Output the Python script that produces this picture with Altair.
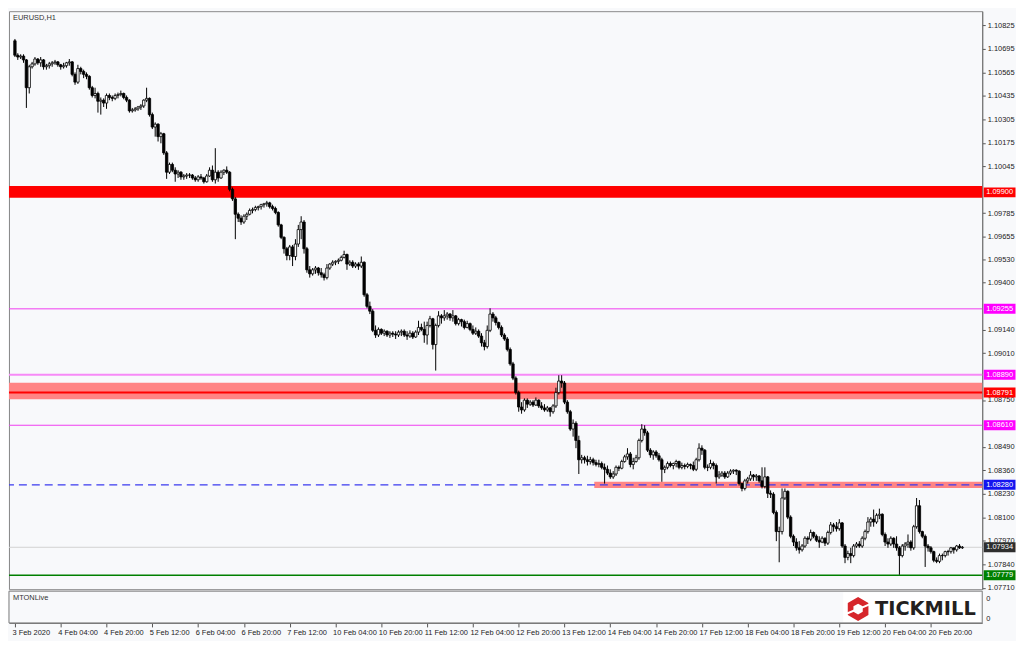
import altair as alt
import pandas as pd

# ---------------- layout constants ----------------
W, H = 980, 582
XMIN, XMAX = -0.34, 336.2
YMIN, YMAX = 1.07702, 1.10904
BG = "#f8f9fb"
FONT = "Liberation Sans"

# ---------------- EURUSD H1 candles ----------------
first_open = 1.10740

c_03 = [1.10660, 1.10650, 1.10655, 1.10634, 1.10480, 1.10596, 1.10612, 1.10639, 1.10618, 1.10634, 1.10596, 1.10602]
h_03 = [1.10750, 1.10671, 1.10665, 1.10665, 1.10639, 1.10607, 1.10623, 1.10650, 1.10644, 1.10650, 1.10639, 1.10612]
l_03 = [1.10650, 1.10634, 1.10639, 1.10618, 1.10368, 1.10448, 1.10586, 1.10602, 1.10607, 1.10596, 1.10580, 1.10580]

c_04 = [1.10612, 1.10618, 1.10623, 1.10607, 1.10596, 1.10602, 1.10618, 1.10623, 1.10554, 1.10511, 1.10586, 1.10570,
        1.10554, 1.10543, 1.10480, 1.10437, 1.10448, 1.10405, 1.10411, 1.10395, 1.10437, 1.10426, 1.10421, 1.10437]
h_04 = [1.10623, 1.10628, 1.10634, 1.10628, 1.10612, 1.10618, 1.10623, 1.10639, 1.10628, 1.10565, 1.10607, 1.10596,
        1.10580, 1.10565, 1.10549, 1.10490, 1.10480, 1.10458, 1.10426, 1.10421, 1.10448, 1.10448, 1.10437, 1.10448]
l_04 = [1.10586, 1.10596, 1.10607, 1.10596, 1.10580, 1.10586, 1.10591, 1.10602, 1.10543, 1.10496, 1.10501, 1.10554,
        1.10533, 1.10527, 1.10469, 1.10426, 1.10421, 1.10342, 1.10331, 1.10373, 1.10363, 1.10411, 1.10405, 1.10411]

c_05 = [1.10442, 1.10448, 1.10426, 1.10411, 1.10352, 1.10357, 1.10363, 1.10373, 1.10379, 1.10411, 1.10421, 1.10331,
        1.10262, 1.10278, 1.10209, 1.10225, 1.10119, 1.10012, 1.10055, 1.10023, 1.10002, 1.10012, 1.09986, 1.09991]
h_05 = [1.10453, 1.10464, 1.10453, 1.10437, 1.10416, 1.10368, 1.10373, 1.10379, 1.10389, 1.10416, 1.10480, 1.10426,
        1.10342, 1.10288, 1.10283, 1.10235, 1.10230, 1.10129, 1.10065, 1.10065, 1.10039, 1.10023, 1.10018, 1.10002]
l_05 = [1.10421, 1.10432, 1.10416, 1.10400, 1.10342, 1.10342, 1.10347, 1.10352, 1.10357, 1.10368, 1.10400, 1.10320,
        1.10251, 1.10209, 1.10182, 1.10172, 1.10108, 1.09975, 1.10002, 1.10012, 1.09959, 1.09980, 1.09970, 1.09970]

c_06 = [1.09996, 1.09996, 1.09980, 1.09970, 1.09986, 1.09980, 1.09959, 1.09991, 1.10023, 1.09970, 1.10012, 1.09980,
        1.10012, 1.10023, 1.10012, 1.09917, 1.09864, 1.09779, 1.09757, 1.09736, 1.09768, 1.09779, 1.09800, 1.09805]
h_06 = [1.10007, 1.10007, 1.10002, 1.09991, 1.09996, 1.10002, 1.09986, 1.10002, 1.10039, 1.10049, 1.10145, 1.10023,
        1.10023, 1.10028, 1.10044, 1.10018, 1.09927, 1.09874, 1.09789, 1.09773, 1.09779, 1.09789, 1.09811, 1.09816]
l_06 = [1.09975, 1.09980, 1.09970, 1.09959, 1.09959, 1.09970, 1.09949, 1.09954, 1.09986, 1.09959, 1.09949, 1.09959,
        1.09975, 1.09996, 1.10002, 1.09906, 1.09853, 1.09641, 1.09736, 1.09720, 1.09726, 1.09747, 1.09773, 1.09784]

c_07 = [1.09816, 1.09821, 1.09832, 1.09837, 1.09842, 1.09821, 1.09811, 1.09789, 1.09720, 1.09651, 1.09588, 1.09550,
        1.09598, 1.09545, 1.09614, 1.09694, 1.09736, 1.09588, 1.09471, 1.09449, 1.09471, 1.09481, 1.09455, 1.09444]
h_07 = [1.09826, 1.09826, 1.09837, 1.09842, 1.09853, 1.09848, 1.09832, 1.09821, 1.09795, 1.09726, 1.09657, 1.09598,
        1.09609, 1.09609, 1.09641, 1.09720, 1.09768, 1.09747, 1.09598, 1.09492, 1.09481, 1.09492, 1.09487, 1.09481]
l_07 = [1.09795, 1.09800, 1.09805, 1.09816, 1.09821, 1.09811, 1.09800, 1.09779, 1.09710, 1.09641, 1.09561, 1.09524,
        1.09524, 1.09492, 1.09524, 1.09598, 1.09641, 1.09561, 1.09455, 1.09428, 1.09439, 1.09449, 1.09439, 1.09428]

c_10 = [1.09428, 1.09481, 1.09503, 1.09513, 1.09518, 1.09524, 1.09540, 1.09556, 1.09503, 1.09513, 1.09492, 1.09503,
        1.09492, 1.09513, 1.09333, 1.09269, 1.09242, 1.09136, 1.09110, 1.09141, 1.09120, 1.09131, 1.09110, 1.09120]
h_10 = [1.09455, 1.09503, 1.09508, 1.09524, 1.09524, 1.09534, 1.09550, 1.09577, 1.09561, 1.09524, 1.09524, 1.09513,
        1.09513, 1.09545, 1.09518, 1.09343, 1.09295, 1.09253, 1.09163, 1.09152, 1.09147, 1.09141, 1.09136, 1.09131]
l_10 = [1.09412, 1.09418, 1.09471, 1.09492, 1.09497, 1.09503, 1.09518, 1.09534, 1.09471, 1.09492, 1.09481, 1.09481,
        1.09471, 1.09481, 1.09322, 1.09258, 1.09226, 1.09126, 1.09094, 1.09099, 1.09110, 1.09104, 1.09099, 1.09094]

c_11 = [1.09115, 1.09110, 1.09126, 1.09131, 1.09110, 1.09104, 1.09120, 1.09099, 1.09126, 1.09152, 1.09141, 1.09110,
        1.09163, 1.09200, 1.09057, 1.09163, 1.09216, 1.09205, 1.09216, 1.09226, 1.09205, 1.09216, 1.09173, 1.09195]
h_11 = [1.09131, 1.09131, 1.09136, 1.09141, 1.09141, 1.09131, 1.09136, 1.09131, 1.09136, 1.09189, 1.09173, 1.09184,
        1.09184, 1.09216, 1.09205, 1.09173, 1.09242, 1.09226, 1.09248, 1.09237, 1.09232, 1.09248, 1.09221, 1.09205]
l_11 = [1.09099, 1.09088, 1.09099, 1.09104, 1.09099, 1.09083, 1.09094, 1.09088, 1.09094, 1.09110, 1.09131, 1.09067,
        1.09057, 1.09152, 1.09030, 1.08913, 1.09152, 1.09173, 1.09189, 1.09195, 1.09189, 1.09184, 1.09163, 1.09163]

c_12 = [1.09184, 1.09152, 1.09173, 1.09141, 1.09120, 1.09131, 1.09104, 1.09067, 1.09046, 1.09136, 1.09226, 1.09205,
        1.09179, 1.09152, 1.09110, 1.09088, 1.09030, 1.08950, 1.08871, 1.08791, 1.08711, 1.08695, 1.08749, 1.08727]
h_12 = [1.09200, 1.09195, 1.09189, 1.09179, 1.09163, 1.09152, 1.09141, 1.09120, 1.09083, 1.09163, 1.09258, 1.09237,
        1.09216, 1.09184, 1.09163, 1.09120, 1.09099, 1.09041, 1.08961, 1.08881, 1.08802, 1.08738, 1.08759, 1.08759]
l_12 = [1.09157, 1.09141, 1.09147, 1.09131, 1.09110, 1.09110, 1.09094, 1.09046, 1.09025, 1.09035, 1.09126, 1.09184,
        1.09163, 1.09141, 1.09099, 1.09078, 1.09019, 1.08940, 1.08860, 1.08780, 1.08685, 1.08674, 1.08685, 1.08706]

c_13 = [1.08738, 1.08722, 1.08749, 1.08717, 1.08706, 1.08695, 1.08706, 1.08685, 1.08717, 1.08791, 1.08855, 1.08844,
        1.08738, 1.08685, 1.08589, 1.08621, 1.08526, 1.08419, 1.08430, 1.08419, 1.08409, 1.08419, 1.08403, 1.08393]
h_13 = [1.08749, 1.08749, 1.08764, 1.08754, 1.08738, 1.08727, 1.08717, 1.08711, 1.08727, 1.08818, 1.08887, 1.08887,
        1.08855, 1.08749, 1.08695, 1.08642, 1.08632, 1.08552, 1.08446, 1.08441, 1.08441, 1.08435, 1.08430, 1.08419]
l_13 = [1.08717, 1.08711, 1.08717, 1.08706, 1.08695, 1.08685, 1.08685, 1.08658, 1.08674, 1.08706, 1.08780, 1.08818,
        1.08727, 1.08674, 1.08579, 1.08547, 1.08483, 1.08340, 1.08398, 1.08398, 1.08387, 1.08393, 1.08387, 1.08382]

c_14 = [1.08398, 1.08377, 1.08366, 1.08345, 1.08324, 1.08340, 1.08377, 1.08372, 1.08409, 1.08435, 1.08451, 1.08393,
        1.08409, 1.08430, 1.08526, 1.08589, 1.08568, 1.08472, 1.08446, 1.08462, 1.08441, 1.08419, 1.08366, 1.08377]
h_14 = [1.08419, 1.08409, 1.08398, 1.08387, 1.08366, 1.08356, 1.08387, 1.08387, 1.08419, 1.08446, 1.08483, 1.08462,
        1.08430, 1.08446, 1.08536, 1.08616, 1.08610, 1.08579, 1.08483, 1.08472, 1.08472, 1.08456, 1.08430, 1.08387]
l_14 = [1.08377, 1.08366, 1.08287, 1.08334, 1.08313, 1.08313, 1.08329, 1.08356, 1.08366, 1.08403, 1.08419, 1.08377,
        1.08366, 1.08403, 1.08419, 1.08515, 1.08552, 1.08462, 1.08430, 1.08419, 1.08430, 1.08409, 1.08297, 1.08345]

c_17 = [1.08398, 1.08387, 1.08398, 1.08409, 1.08377, 1.08387, 1.08382, 1.08393, 1.08387, 1.08366, 1.08419, 1.08483,
        1.08472, 1.08377, 1.08377, 1.08398, 1.08387, 1.08324, 1.08334, 1.08345, 1.08324, 1.08345, 1.08356, 1.08361]
h_17 = [1.08409, 1.08409, 1.08403, 1.08419, 1.08414, 1.08403, 1.08398, 1.08403, 1.08398, 1.08409, 1.08430, 1.08510,
        1.08499, 1.08478, 1.08393, 1.08419, 1.08409, 1.08398, 1.08356, 1.08356, 1.08356, 1.08356, 1.08366, 1.08366]
l_17 = [1.08366, 1.08377, 1.08366, 1.08377, 1.08366, 1.08366, 1.08366, 1.08372, 1.08366, 1.08356, 1.08356, 1.08409,
        1.08446, 1.08366, 1.08356, 1.08366, 1.08366, 1.08287, 1.08313, 1.08324, 1.08313, 1.08318, 1.08334, 1.08340]

c_18 = [1.08356, 1.08287, 1.08260, 1.08302, 1.08313, 1.08334, 1.08324, 1.08329, 1.08302, 1.08271, 1.08324, 1.08233,
        1.08228, 1.08127, 1.08021, 1.08021, 1.08207, 1.08244, 1.08101, 1.07995, 1.07963, 1.07931, 1.07920, 1.07941]
h_18 = [1.08366, 1.08361, 1.08292, 1.08313, 1.08324, 1.08356, 1.08340, 1.08340, 1.08334, 1.08377, 1.08377, 1.08329,
        1.08249, 1.08239, 1.08138, 1.08048, 1.08260, 1.08260, 1.08249, 1.08111, 1.08005, 1.07984, 1.07968, 1.07952]
l_18 = [1.08334, 1.08276, 1.08244, 1.08249, 1.08287, 1.08302, 1.08302, 1.08302, 1.08292, 1.08260, 1.08260, 1.08207,
        1.08207, 1.08117, 1.07968, 1.07851, 1.08005, 1.08196, 1.08090, 1.07984, 1.07941, 1.07915, 1.07899, 1.07910]

c_19 = [1.07984, 1.07979, 1.08016, 1.07995, 1.07973, 1.07963, 1.07984, 1.07957, 1.08016, 1.08058, 1.08048, 1.08037,
        1.08069, 1.07941, 1.07878, 1.07899, 1.07888, 1.07941, 1.07952, 1.07941, 1.07984, 1.08021, 1.08074, 1.08090]
h_19 = [1.07995, 1.07995, 1.08032, 1.08021, 1.08005, 1.07995, 1.07995, 1.07989, 1.08026, 1.08074, 1.08069, 1.08074,
        1.08090, 1.08074, 1.07952, 1.07915, 1.07931, 1.07952, 1.07963, 1.07968, 1.07995, 1.08032, 1.08101, 1.08101]
l_19 = [1.07931, 1.07952, 1.07968, 1.07984, 1.07963, 1.07931, 1.07957, 1.07941, 1.07947, 1.08005, 1.08021, 1.08021,
        1.08026, 1.07931, 1.07846, 1.07862, 1.07846, 1.07878, 1.07931, 1.07931, 1.07931, 1.07973, 1.08010, 1.08048]

c_20 = [1.08074, 1.08111, 1.08117, 1.08005, 1.07963, 1.07952, 1.07984, 1.07952, 1.07931, 1.07888, 1.07941, 1.07952,
        1.07963, 1.07931, 1.08048, 1.08164, 1.08021, 1.07995, 1.07941, 1.07931, 1.07910, 1.07862, 1.07856, 1.07888]
h_20 = [1.08143, 1.08122, 1.08148, 1.08122, 1.08016, 1.07984, 1.07995, 1.07989, 1.07995, 1.07941, 1.07952, 1.07963,
        1.08005, 1.07973, 1.08058, 1.08207, 1.08196, 1.08026, 1.08005, 1.07952, 1.07941, 1.07915, 1.07878, 1.07899]
l_20 = [1.08048, 1.08064, 1.08090, 1.07995, 1.07941, 1.07931, 1.07941, 1.07931, 1.07915, 1.07782, 1.07878, 1.07915,
        1.07931, 1.07915, 1.07920, 1.08037, 1.08010, 1.07984, 1.07825, 1.07910, 1.07899, 1.07851, 1.07846, 1.07846]

c_21 = [1.07888, 1.07910, 1.07910, 1.07931, 1.07920, 1.07941, 1.07931, 1.07934]
h_21 = [1.07899, 1.07915, 1.07920, 1.07936, 1.07931, 1.07947, 1.07952, 1.07941]
l_21 = [1.07862, 1.07878, 1.07888, 1.07899, 1.07899, 1.07910, 1.07925, 1.07925]

day_close = [c_03, c_04, c_05, c_06, c_07, c_10, c_11, c_12, c_13, c_14, c_17, c_18, c_19, c_20, c_21]
day_high = [h_03, h_04, h_05, h_06, h_07, h_10, h_11, h_12, h_13, h_14, h_17, h_18, h_19, h_20, h_21]
day_low = [l_03, l_04, l_05, l_06, l_07, l_10, l_11, l_12, l_13, l_14, l_17, l_18, l_19, l_20, l_21]

closes = [v for d in day_close for v in d]
highs = [v for d in day_high for v in d]
lows = [v for d in day_low for v in d]
opens = [first_open] + closes[:-1]

bars = pd.DataFrame({"i": list(range(len(closes))), "o": opens, "h": highs, "l": lows, "c": closes})

# ---------------- axis texts ----------------
time_labels = ["3 Feb 2020", "4 Feb 04:00", "4 Feb 20:00", "5 Feb 12:00", "6 Feb 04:00", "6 Feb 20:00",
               "7 Feb 12:00", "10 Feb 04:00", "10 Feb 20:00", "11 Feb 12:00", "12 Feb 04:00", "12 Feb 20:00",
               "13 Feb 12:00", "14 Feb 04:00", "14 Feb 20:00", "17 Feb 12:00", "18 Feb 04:00", "18 Feb 20:00",
               "19 Feb 12:00", "20 Feb 04:00", "20 Feb 20:00"]
tick_bars = [16 * k for k in range(len(time_labels))]
price_ticks = [1.10825, 1.10695, 1.10565, 1.10435, 1.10305, 1.10175, 1.10045, 1.09785, 1.09655, 1.09530,
               1.09400, 1.09140, 1.09010, 1.08750, 1.08490, 1.08360, 1.08230, 1.08100, 1.07970, 1.07840, 1.07710]

# ---------------- drawn levels ----------------
band_lo = [1.09871, 1.08754]
band_hi = [1.09935, 1.08845]
band_col = ["#ff0000", "#ff8484"]

zone_start = [202.4]
zone_lo = [1.08262]
zone_hi = [1.08297]

line_price = [1.09255, 1.08890, 1.08791, 1.08610, 1.07934, 1.07779]
line_col = ["#f03cf0", "#f78af7", "#ff0000", "#f03cf0", "#d2d2d2", "#008000"]
line_w = [1, 2, 2, 1, 1, 1.5]

dash_price = [1.08280]

tag_price = [1.09900, 1.09255, 1.08890, 1.08791, 1.08610, 1.08280, 1.07934, 1.07779]
tag_text = ["1.09900", "1.09255", "1.08890", "1.08791", "1.08610", "1.08280", "1.07934", "1.07779"]
tag_bg = ["#ff0000", "#ff00ff", "#ff00ff", "#ff0000", "#ff00ff", "#1414f0", "#2e2e2e", "#008000"]

# ---------------- scales / axes ----------------
xsc = alt.Scale(domain=[XMIN, XMAX], nice=False, zero=False)
ysc = alt.Scale(domain=[YMIN, YMAX], nice=False, zero=False)

labels_js = "[" + ",".join("'" + t + "'" for t in time_labels) + "]"
xaxis = alt.Axis(values=tick_bars, labelExpr=labels_js + "[round(datum.value / 16)]", orient="bottom",
                 offset=34, grid=False, tickSize=4, tickColor="#555555", domainColor="#707070",
                 labelFont=FONT, labelFontSize=7.5, labelColor="#222222", labelAlign="left",
                 labelBaseline="top", labelPadding=2, labelOffset=-3, labelFlush=False,
                 labelOverlap=False, labelBound=False, title=None)
yaxis = alt.Axis(orient="right", values=price_ticks, format=".5f", grid=False, tickSize=3,
                 tickColor="#555555", domainColor="#707070", labelFont=FONT, labelFontSize=7.5,
                 labelColor="#222222", labelPadding=2, labelOverlap=False, labelBound=False,
                 labelFlush=False, title=None)


def X(field):
    return alt.X(field, scale=xsc, axis=xaxis)


def Y(field):
    return alt.Y(field, scale=ysc, axis=yaxis)


one = pd.DataFrame({"k": [0]})

bands = alt.Chart(pd.DataFrame({"lo": band_lo, "hi": band_hi, "col": band_col})).mark_rect().encode(
    x=alt.value(0), x2=alt.value(W),
    y=Y("lo:Q"), y2="hi:Q",
    color=alt.Color("col:N", scale=None))

zone = alt.Chart(pd.DataFrame({"s": zone_start, "lo": zone_lo, "hi": zone_hi})).mark_rect(
    color="#ff8484").encode(
    x=X("s:Q"), x2=alt.value(W),
    y=Y("lo:Q"), y2="hi:Q")

lines = alt.Chart(pd.DataFrame({"p": line_price, "col": line_col, "w": line_w})).mark_rule().encode(
    y=Y("p:Q"),
    color=alt.Color("col:N", scale=None),
    strokeWidth=alt.StrokeWidth("w:Q", scale=None))

dash = alt.Chart(pd.DataFrame({"p": dash_price})).mark_rule(
    color="#3a3af0", strokeWidth=1.2, strokeDash=[8, 5]).encode(y=Y("p:Q"))

wicks = alt.Chart(bars).mark_rule(color="#000000", strokeWidth=1).encode(
    x=X("i:Q"), y=Y("l:Q"), y2="h:Q")

bodies = alt.Chart(bars).mark_bar(size=2.4, stroke="#000000", strokeWidth=0.8).encode(
    x=X("i:Q"), y=Y("o:Q"), y2="c:Q",
    fill=alt.condition("datum.c >= datum.o", alt.value("#ffffff"), alt.value("#000000")))

tags_df = pd.DataFrame({"p": tag_price, "t": tag_text, "bg": tag_bg})
tag_box = alt.Chart(tags_df).mark_point(
    shape="M-1.6,-0.5H1.6V0.5H-1.6Z", filled=True, size=400, opacity=1, strokeWidth=0).encode(
    x=alt.value(W + 17.5), y=Y("p:Q"),
    color=alt.Color("bg:N", scale=None))
tag_txt = alt.Chart(tags_df).mark_text(
    font=FONT, fontSize=7.5, align="center", baseline="middle", color="#ffffff").encode(
    x=alt.value(W + 17.5), y=Y("p:Q"), text="t:N")

title_txt = alt.Chart(one).mark_text(
    text="EURUSD,H1", font=FONT, fontSize=7.5, align="left", baseline="middle", color="#333333").encode(
    x=alt.value(4), y=alt.value(7))

sub_panel = alt.Chart(one).mark_rect(fill=BG, stroke="#7a7a7a", strokeWidth=1).encode(
    x=alt.value(0), x2=alt.value(W), y=alt.value(H + 2), y2=alt.value(H + 34))
sub_name = alt.Chart(one).mark_text(
    text="MTONLive", font=FONT, fontSize=7.5, align="left", baseline="middle", color="#333333").encode(
    x=alt.value(4), y=alt.value(H + 9))
sub_zero_top = alt.Chart(one).mark_text(
    text="0", font=FONT, fontSize=7.5, align="left", baseline="middle", color="#222222").encode(
    x=alt.value(W + 4), y=alt.value(H + 10))
sub_zero_bot = alt.Chart(one).mark_text(
    text="0", font=FONT, fontSize=7.5, align="left", baseline="middle", color="#222222").encode(
    x=alt.value(W + 4), y=alt.value(H + 30))

logo_bg = alt.Chart(one).mark_rect(fill="#ffffff").encode(
    x=alt.value(840), x2=alt.value(W - 2), y=alt.value(H + 3), y2=alt.value(H + 33))
logo_ring = alt.Chart(one).mark_point(
    shape="M0,-1L0.866,-0.5L0.866,0.5L0,1L-0.866,0.5L-0.866,-0.5Z"
          "M0,-0.45L-0.39,-0.225L-0.39,0.225L0,0.45L0.39,0.225L0.39,-0.225Z",
    filled=True, size=576, opacity=1, color="#d6262b", strokeWidth=0).encode(
    x=alt.value(855), y=alt.value(H + 20))
logo_cut = alt.Chart(one).mark_point(
    shape="M0.25,-0.18L1,-0.5L1,-0.32L0.25,0Z M-0.25,0.18L-1,0.5L-1,0.32L-0.25,0Z",
    filled=True, size=576, opacity=1, color="#ffffff", strokeWidth=0).encode(
    x=alt.value(855), y=alt.value(H + 20))
logo_txt = alt.Chart(one).mark_text(
    text="TICKMILL", font="DejaVu Sans", fontSize=19.5, fontWeight="bold", align="left",
    baseline="middle", color="#231f20").encode(
    x=alt.value(872), y=alt.value(H + 20))

chart = alt.layer(
    bands, zone, lines, dash, wicks, bodies, tag_box, tag_txt, title_txt,
    sub_panel, sub_name, sub_zero_top, sub_zero_bot, logo_bg, logo_ring, logo_cut, logo_txt
).properties(
    width=W, height=H,
    padding={"left": 1, "top": 1, "right": 34, "bottom": 50},
    autosize=alt.AutoSizeParams(type="none"),
    background=BG,
).configure_view(stroke="#8a8a8a", strokeWidth=1, fill=BG)

chart.save("out.html", embed_options={"renderer": "svg", "actions": False})
